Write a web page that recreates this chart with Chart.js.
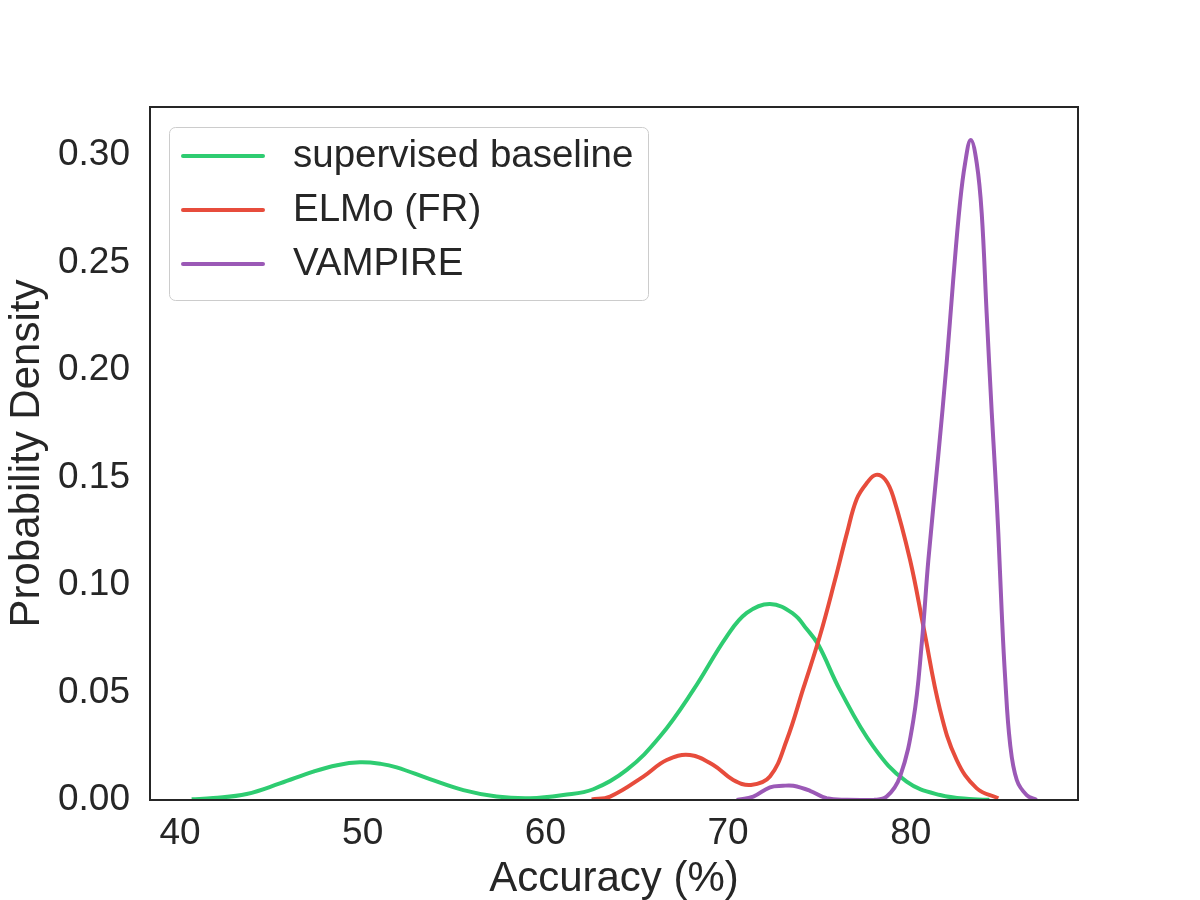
<!DOCTYPE html>
<html>
<head>
<meta charset="utf-8">
<title>Accuracy KDE</title>
<script src="https://cdn.jsdelivr.net/npm/chart.js@4.4.1/dist/chart.umd.min.js"></script>
<style>
  html, body { margin: 0; padding: 0; background: #ffffff; }
  #wrap { width: 1200px; height: 900px; }
</style>
</head>
<body>
<div id="wrap"><canvas id="kdeChart" width="1200" height="900"></canvas></div>
<script>
// Datos (densidad de probabilidad por precisión)
const seriesNames = ['supervised baseline', 'ELMo (FR)', 'VAMPIRE'];
const seriesColors = ['#2ecc71', '#e74c3c', '#9b59b6'];

const baselineX = [40.64, 41.82, 43.65, 45.47, 47.30, 48.60, 49.85, 51.00, 51.86, 53.68, 55.51, 57.33, 59.16, 60.98, 62.62, 64.45, 66.27, 68.10, 69.92, 71.02, 72.29, 73.57, 74.30, 74.94, 76.12, 77.95, 79.77, 81.60, 83.42, 84.30];
const baselineY = [0.0003, 0.0009, 0.0028, 0.0077, 0.0132, 0.0162, 0.0175, 0.0168, 0.0152, 0.0097, 0.0046, 0.0016, 0.0008, 0.0023, 0.0050, 0.0140, 0.0295, 0.0512, 0.0760, 0.0870, 0.0912, 0.0866, 0.0795, 0.0722, 0.0512, 0.0248, 0.0085, 0.0023, 0.0003, 0.0001];

const elmoX = [62.53, 63.54, 65.36, 66.64, 67.91, 69.19, 70.28, 71.25, 72.29, 73.21, 74.12, 75.03, 75.85, 76.50, 77.04, 77.60, 78.09, 78.60, 79.04, 79.96, 80.69, 81.60, 82.51, 83.61, 84.79];
const elmoY = [0.0003, 0.0016, 0.0109, 0.0186, 0.0209, 0.0163, 0.0093, 0.0070, 0.0109, 0.0279, 0.0520, 0.0765, 0.1023, 0.1240, 0.1400, 0.1475, 0.1512, 0.1490, 0.1410, 0.1116, 0.0806, 0.0419, 0.0186, 0.0054, 0.0008];

const vampireX = [70.47, 71.38, 72.29, 73.00, 73.57, 74.48, 75.39, 76.50, 78.00, 78.68, 79.41, 80.14, 80.60, 80.96, 81.50, 81.96, 82.32, 82.69, 82.97, 83.28, 83.61, 83.88, 84.15, 84.43, 84.61, 84.79, 84.97, 85.16, 85.43, 85.80, 86.34, 86.89];
const vampireY = [0.0000, 0.0016, 0.0059, 0.0066, 0.0066, 0.0043, 0.0008, 0.0001, 0.0001, 0.0016, 0.0109, 0.0372, 0.0729, 0.1116, 0.1600, 0.2031, 0.2419, 0.2775, 0.2961, 0.3070, 0.2961, 0.2729, 0.2264, 0.1800, 0.1535, 0.1240, 0.0884, 0.0573, 0.0264, 0.0093, 0.0023, 0.0000];

const xTicks = [40, 50, 60, 70, 80];
const yTicks = [0.00, 0.05, 0.10, 0.15, 0.20, 0.25, 0.30];

const textColor = '#262626';
const fontFamily = '"Liberation Sans", Arial, sans-serif';

function toPoints(xs, ys) {
    return xs.map(function(x, i) { return { x: x, y: ys[i] }; });
}

// Marco completo alrededor del área del gráfico
const framePlugin = {
    id: 'frame',
    afterDatasetsDraw(chart) {
        const { ctx, chartArea: a } = chart;
        ctx.save();
        ctx.strokeStyle = textColor;
        ctx.lineWidth = 2;
        ctx.strokeRect(a.left, a.top, a.right - a.left, a.bottom - a.top);
        ctx.restore();
    }
};

// Leyenda dentro del área, estilo matplotlib
const boxLegendPlugin = {
    id: 'boxLegend',
    afterDraw(chart) {
        const { ctx, chartArea: a } = chart;
        const bx = a.left + 19, by = a.top + 20, bw = 479, bh = 173;
        ctx.save();
        ctx.beginPath();
        ctx.roundRect(bx + 0.5, by + 0.5, bw, bh, 6);
        ctx.fillStyle = 'rgba(255,255,255,0.8)';
        ctx.fill();
        ctx.strokeStyle = '#cccccc';
        ctx.lineWidth = 1;
        ctx.stroke();
        chart.data.datasets.forEach(function(ds, i) {
            const y = by + 29 + i * 54;
            ctx.beginPath();
            ctx.moveTo(bx + 14, y);
            ctx.lineTo(bx + 94, y);
            ctx.strokeStyle = ds.borderColor;
            ctx.lineWidth = 4;
            ctx.lineCap = 'round';
            ctx.stroke();
            ctx.fillStyle = textColor;
            ctx.font = '38.5px ' + fontFamily;
            ctx.textBaseline = 'middle';
            ctx.textAlign = 'left';
            ctx.fillText(ds.label, bx + 124, y);
        });
        ctx.restore();
    }
};

const allX = [baselineX, elmoX, vampireX];
const allY = [baselineY, elmoY, vampireY];

new Chart(document.getElementById('kdeChart'), {
    type: 'line',
    data: {
        datasets: seriesNames.map(function(name, i) {
            return {
                label: name,
                data: toPoints(allX[i], allY[i]),
                borderColor: seriesColors[i],
                backgroundColor: seriesColors[i],
                borderWidth: 4,
                pointRadius: 0,
                fill: false,
                tension: 0.4,
                order: 3 - i
            };
        })
    },
    options: {
        responsive: false,
        animation: false,
        layout: { padding: { top: 107, right: 122, left: 0, bottom: 0 } },
        plugins: {
            legend: { display: false },
            tooltip: { enabled: false }
        },
        scales: {
            x: {
                type: 'linear',
                min: 38.36,
                max: 89.15,
                afterBuildTicks: function(scale) {
                    scale.ticks = xTicks.map(function(v) { return { value: v }; });
                },
                afterFit: function(scale) { scale.height = 100; },
                grid: { display: false, drawTicks: false },
                border: { display: false },
                ticks: {
                    color: textColor,
                    padding: 12,
                    font: { family: fontFamily, size: 37 },
                    callback: function(v) { return String(v); }
                },
                title: {
                    display: true,
                    text: 'Accuracy (%)',
                    color: textColor,
                    padding: { top: 0, bottom: -5 },
                    font: { family: fontFamily, size: 42 }
                }
            },
            y: {
                min: 0,
                max: 0.3223,
                afterBuildTicks: function(scale) {
                    scale.ticks = yTicks.map(function(v) { return { value: v }; });
                },
                afterFit: function(scale) { scale.width = 150; },
                grid: { display: false, drawTicks: false },
                border: { display: false },
                ticks: {
                    color: textColor,
                    padding: 20,
                    font: { family: fontFamily, size: 37 },
                    callback: function(v) { return Number(v).toFixed(2); }
                },
                title: {
                    display: true,
                    text: 'Probability Density',
                    color: textColor,
                    padding: { top: 2, bottom: 0 },
                    font: { family: fontFamily, size: 42 }
                }
            }
        }
    },
    plugins: [framePlugin, boxLegendPlugin]
});
</script>
</body>
</html>
